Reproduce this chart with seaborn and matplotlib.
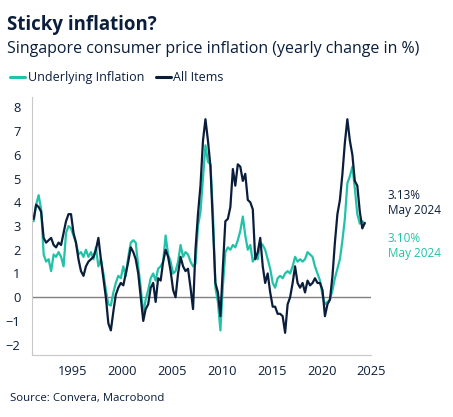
import pandas as pd
import matplotlib.pyplot as plt
import matplotlib.dates as mdates
import seaborn as sns

# quarterly readings (Feb, May, Aug, Nov) from Feb 1991 to May 2024
dates = pd.date_range('1991-02-01', periods=134, freq='3MS')

all_items = [
    3.3, 3.9, 3.8, 3.6,
    2.5, 2.3, 2.4, 2.5,
    2.2, 2.1, 2.3, 2.2,
    2.7, 3.2, 3.5, 3.5,
    2.7, 2.3, 1.6, 1.1,
    0.9, 1.3, 1.5, 1.6,
    1.7, 2.0, 2.5, 1.6,
    0.8, 0.0, -1.1, -1.4,
    -0.6, 0.1, 0.4, 0.6,
    0.5, 1.0, 1.5, 2.1,
    1.9, 1.6, 1.0, 0.0,
    -1.0, -0.5, -0.3, 0.4,
    0.6, -0.2, 0.8, 0.7,
    1.5, 2.0, 1.7, 1.1,
    0.3, 0.0, 1.0, 1.7,
    1.3, 1.1, 1.2, 0.4,
    -0.5, 2.0, 3.5, 4.7,
    6.6, 7.5, 6.6, 5.5,
    3.0, 0.6, 0.2, -0.8,
    1.3, 3.2, 3.3, 3.8,
    5.4, 4.7, 5.6, 5.5,
    4.9, 5.2, 4.1, 4.0,
    3.7, 1.6, 1.9, 2.5,
    1.3, 0.6, 1.0, 0.2,
    -0.4, -0.4, -0.7, -0.7,
    -0.8, -1.5, -0.3, 0.0,
    0.6, 1.3, 0.6, 0.4,
    0.6, 0.2, 0.7, 0.5,
    0.6, 0.8, 0.6, 0.6,
    0.3, -0.8, -0.3, -0.1,
    0.9, 2.3, 3.5, 4.1,
    5.2, 6.5, 7.5, 6.6,
    6.0, 4.9, 4.7, 3.6,
    2.9, 3.13,
]

underlying = [
    3.2, 3.9, 4.3, 3.7,
    1.8, 1.5, 1.6, 1.1,
    1.8, 1.7, 1.9, 1.7,
    1.3, 2.7, 3.0, 2.9,
    2.6, 2.3, 1.8, 1.9,
    1.7, 2.0, 1.7, 1.9,
    1.6, 2.1, 1.3, 1.6,
    1.0, 0.3, -0.3, -0.35,
    0.2, 0.6, 0.9, 0.8,
    1.3, 0.9, 1.7, 2.3,
    2.4, 2.3, 1.3, 0.4,
    -0.7, -0.1, 0.3, 0.8,
    1.0, 0.7, 1.2, 1.3,
    1.5, 2.6, 1.8, 1.5,
    1.0, 1.1, 1.5, 2.2,
    1.7, 1.9, 1.8, 1.5,
    1.3, 1.4, 3.0, 3.6,
    5.0, 6.4, 5.7, 5.6,
    3.5, 0.4, -0.2, -1.4,
    0.5, 1.9, 2.1, 2.0,
    2.2, 2.1, 2.4, 2.8,
    3.4, 2.6, 2.0, 2.2,
    1.5, 1.7, 1.6, 2.3,
    2.2, 2.0, 1.6, 1.2,
    0.6, 0.4, 0.8, 0.9,
    0.8, 1.0, 1.1, 1.0,
    1.3, 1.7, 1.5, 1.6,
    1.5, 1.6, 1.9, 1.8,
    1.7, 1.3, 1.0, 0.7,
    0.1, -0.3, -0.2, -0.1,
    0.3, 0.8, 1.2, 1.6,
    2.4, 3.3, 4.8, 5.1,
    5.5, 4.6, 3.5, 3.1,
    3.2, 3.10,
]

series_names = ['Underlying Inflation', 'All Items']
y_ticks = [-2, -1, 0, 1, 2, 3, 4, 5, 6, 7, 8]

navy = '#0a1e3c'
teal = '#21c2a7'

df = pd.DataFrame({'date': list(dates) * 2,
                   'value': underlying + all_items,
                   'series': [series_names[0]] * len(dates) + [series_names[1]] * len(dates)})

sns.set_style('white')
plt.rcParams['font.family'] = ['Open Sans', 'DejaVu Sans']

fig = plt.figure(figsize=(4.53, 4.17), dpi=100)
ax = fig.add_axes([0.070, 0.149, 0.750, 0.618])

sns.lineplot(data=df, x='date', y='value', hue='series', hue_order=series_names,
             palette=[teal, navy], linewidth=1.6, ax=ax, legend=False)

ax.axhline(0, color='#808080', linewidth=1, zorder=1)
ax.set_xlim(pd.Timestamp('1990-11-20'), pd.Timestamp('2025-01-01'))
ax.set_ylim(-2.43, 8.43)
ax.set_yticks(y_ticks)
ax.xaxis.set_major_locator(mdates.YearLocator(5))
ax.xaxis.set_major_formatter(mdates.DateFormatter('%Y'))
ax.set_xlabel('')
ax.set_ylabel('')
ax.tick_params(axis='both', colors='#a0a0a0', labelcolor=navy, labelsize=9.3, length=4, width=0.8)
ax.tick_params(axis='y', pad=4)
for s in ['top', 'right']:
    ax.spines[s].set_visible(False)
for s in ['left', 'bottom']:
    ax.spines[s].set_color('#c8c8c8')
    ax.spines[s].set_linewidth(0.8)

# titles
fig.text(0.016, 0.928, 'Sticky inflation?', fontsize=13.4, fontweight='bold', color=navy)
fig.text(0.016, 0.872, 'Singapore consumer price inflation (yearly change in %)', fontsize=11.5, color=navy)

handles = [plt.Line2D([], [], color=teal, lw=2.2), plt.Line2D([], [], color=navy, lw=2.2)]
fig.legend(handles, series_names, loc='center left', bbox_to_anchor=(0.012, 0.813), ncol=2,
           frameon=False, fontsize=9, handlelength=1.2, handletextpad=0.2, columnspacing=0.9,
           labelcolor=navy, borderaxespad=0)

# end labels
fig.text(0.856, 0.522, '3.13%', fontsize=8.5, color=navy)
fig.text(0.856, 0.486, 'May 2024', fontsize=8.5, color=navy)
fig.text(0.856, 0.420, '3.10%', fontsize=8.5, color=teal)
fig.text(0.856, 0.384, 'May 2024', fontsize=8.5, color=teal)

fig.text(0.022, 0.038, 'Source: Convera, Macrobond', fontsize=8.2, color=navy)

fig.savefig('out.png', dpi=100)
